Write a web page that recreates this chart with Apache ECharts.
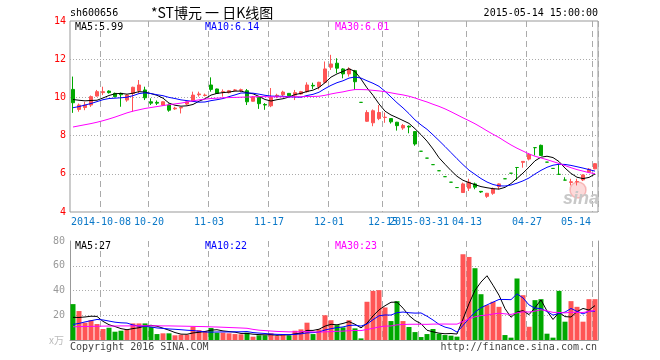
<!DOCTYPE html>
<html><head><meta charset="utf-8">
<script src="https://cdn.jsdelivr.net/npm/echarts@6/dist/echarts.min.js"></script>
<style>html,body{margin:0;padding:0;background:#fff}#c{width:660px;height:360px}</style>
</head><body><div id="c"></div>
<script>
const dates = [
'2014-09-24','2014-09-25','2014-09-26','2014-09-29','2014-09-30',
'2014-10-08','2014-10-09','2014-10-10','2014-10-13','2014-10-14','2014-10-15','2014-10-16','2014-10-17',
'2014-10-20','2014-10-21','2014-10-22','2014-10-23','2014-10-24','2014-10-27','2014-10-28','2014-10-29','2014-10-30','2014-10-31',
'2014-11-03','2014-11-04','2014-11-05','2014-11-06','2014-11-07','2014-11-10','2014-11-11','2014-11-12','2014-11-13','2014-11-14',
'2014-11-17','2014-11-18','2014-11-19','2014-11-20','2014-11-21','2014-11-24','2014-11-25','2014-11-26','2014-11-27','2014-11-28',
'2014-12-01','2014-12-02','2014-12-03','2014-12-04','2014-12-05','2014-12-08','2014-12-09','2014-12-10','2014-12-11',
'2014-12-15','2014-12-16','2014-12-17','2014-12-18','2014-12-19','2014-12-22',
'2015-03-31','2015-04-01','2015-04-02','2015-04-03','2015-04-07','2015-04-08','2015-04-09','2015-04-10',
'2015-04-13','2015-04-14','2015-04-15','2015-04-16','2015-04-17',
'2015-04-20','2015-04-21','2015-04-22','2015-04-23','2015-04-24',
'2015-04-27','2015-04-28','2015-04-29','2015-04-30',
'2015-05-04','2015-05-05','2015-05-06','2015-05-07','2015-05-08',
'2015-05-11','2015-05-12','2015-05-14'];

const tickDates = ['2014-10-08','2014-10-20','2014-11-03','2014-11-17','2014-12-01','2014-12-15','2015-03-31','2015-04-13','2015-04-27','2015-05-14'];
const tickLabels = ['2014-10-08','10-20','11-03','11-17','12-01','12-15','2015-03-31','04-13','04-27','05-14'];

const opens = [10.42,9.37,9.47,9.60,10.07,10.25,10.33,10.21,10.21,9.86,
10.21,10.35,10.39,9.77,9.74,9.60,9.60,9.40,9.45,9.65,
9.82,10.14,10.10,10.65,10.44,10.28,10.25,10.37,10.37,10.35,
9.80,10.00,9.63,9.56,10.08,10.14,10.21,10.12,10.18,10.30,
10.63,10.56,10.79,11.58,11.79,11.49,11.23,11.40,9.74,8.75,
8.67,8.89,8.95,8.89,8.70,8.40,8.49,8.21,7.18,6.82,
6.48,6.16,5.85,5.56,5.28,5.02,5.25,5.47,5.08,4.82,
4.98,5.33,5.74,6.03,6.33,6.60,6.77,7.37,7.49,6.61,
6.28,5.97,5.67,5.55,5.58,5.68,6.09,6.26];
const closes = [9.72,9.60,9.60,10.04,10.30,10.30,10.25,10.04,10.14,10.12,
10.53,10.65,9.98,9.70,9.70,9.77,9.33,9.44,9.47,9.77,
10.12,10.18,10.12,10.42,10.21,10.30,10.35,10.39,10.40,9.77,
10.02,9.67,9.60,10.00,10.11,10.28,10.09,10.25,10.30,10.65,
10.60,10.79,11.49,11.75,11.53,11.23,11.49,10.82,9.74,9.21,
9.30,9.21,8.96,8.72,8.52,8.53,8.45,7.56,7.18,6.82,
6.48,6.16,5.85,5.56,5.28,5.47,5.56,5.30,5.05,4.98,
5.21,5.47,5.74,6.03,6.33,6.65,7.02,7.37,6.96,6.61,
6.28,5.97,5.67,5.58,5.60,5.94,6.24,6.53];
const lows = [9.19,9.25,9.33,9.50,10.04,10.12,10.20,10.00,9.51,9.77,
9.25,10.21,9.86,9.60,9.60,9.55,9.25,9.35,9.16,9.60,
9.77,10.04,10.05,10.30,10.18,10.04,10.21,10.33,10.28,9.60,
9.78,9.40,9.35,9.49,9.96,10.05,10.05,9.86,10.14,10.25,
10.44,10.42,10.74,11.44,11.26,11.00,11.09,10.39,9.74,8.72,
8.49,8.81,8.67,8.63,8.26,8.30,8.12,7.47,7.18,6.82,
6.48,6.16,5.85,5.56,5.28,5.02,5.10,5.19,5.00,4.74,
4.90,5.18,5.74,6.03,5.68,6.32,6.70,6.96,6.96,6.61,
6.28,5.97,5.67,5.39,5.39,5.62,6.05,6.24];
const highs = [11.09,9.68,9.77,10.10,10.39,10.56,10.37,10.25,10.25,10.16,
10.56,10.91,10.56,9.95,9.84,9.80,9.68,9.51,9.50,9.80,
10.30,10.30,10.20,11.05,10.46,10.42,10.39,10.44,10.46,10.44,
10.07,10.05,9.70,10.49,10.19,10.35,10.23,10.39,10.34,10.79,
10.77,10.82,11.88,12.23,12.05,11.53,11.58,11.44,9.74,9.33,
9.37,9.60,9.21,8.90,8.72,8.61,8.53,8.22,7.18,6.82,
6.48,6.16,5.85,5.56,5.28,5.54,5.74,5.54,5.10,5.00,
5.28,5.50,5.74,6.03,6.33,6.65,7.09,7.37,7.53,6.61,
6.28,6.53,5.82,5.74,5.74,5.97,6.30,6.56];

const ma5 = [9.89,9.85,9.82,9.84,9.85,9.97,10.10,10.19,10.21,10.17,
10.22,10.30,10.28,10.20,10.11,9.96,9.70,9.59,9.54,9.56,
9.63,9.80,9.93,10.12,10.21,10.25,10.28,10.33,10.33,10.24,
10.19,10.05,9.89,9.81,9.88,9.93,10.02,10.15,10.21,10.31,
10.38,10.52,10.77,11.06,11.23,11.36,11.50,11.36,10.96,10.50,
10.11,9.66,9.28,9.08,8.94,8.79,8.64,8.36,8.05,7.71,
7.30,6.84,6.50,6.17,5.87,5.66,5.54,5.43,5.33,5.27,
5.22,5.20,5.29,5.49,5.76,6.04,6.35,6.68,6.87,6.92,
6.85,6.64,6.30,6.02,5.82,5.75,5.81,5.99];
const ma10 = [9.46,9.52,9.60,9.68,9.78,9.88,9.94,9.96,9.98,10.01,
10.09,10.20,10.24,10.20,10.14,10.09,10.00,9.94,9.87,9.83,
9.79,9.75,9.76,9.83,9.88,9.94,10.04,10.13,10.23,10.23,
10.22,10.17,10.11,10.07,10.06,10.06,10.03,10.02,10.01,10.10,
10.16,10.27,10.46,10.63,10.77,10.87,11.01,11.07,11.01,10.87,
10.74,10.58,10.32,10.02,9.72,9.45,9.15,8.82,8.56,8.33,
8.04,7.74,7.43,7.11,6.79,6.48,6.19,5.97,5.75,5.57,
5.44,5.37,5.36,5.41,5.51,5.63,5.78,5.99,6.18,6.34,
6.45,6.50,6.49,6.44,6.37,6.30,6.22,6.14];
const ma30 = [8.45,8.51,8.57,8.63,8.70,8.78,8.87,8.97,9.08,9.19,
9.28,9.35,9.42,9.47,9.52,9.57,9.62,9.66,9.70,9.76,
9.82,9.87,9.91,9.94,9.96,9.98,9.99,10.00,10.01,10.02,
10.03,10.04,10.04,10.03,10.03,10.03,10.02,10.03,10.03,10.05,
10.05,10.06,10.11,10.18,10.24,10.29,10.36,10.41,10.41,10.40,
10.37,10.34,10.30,10.24,10.18,10.13,10.06,9.97,9.86,9.76,
9.64,9.53,9.40,9.25,9.09,8.93,8.78,8.62,8.44,8.25,
8.07,7.90,7.70,7.51,7.34,7.19,7.04,6.92,6.83,6.74,
6.64,6.54,6.43,6.32,6.22,6.14,6.06,6.01];

const volumes = [29,23.4,14,16,12.9,8.9,9.9,6.7,7.5,8.6,
13.4,13.4,13.4,10.7,4.8,5.4,5.4,3.8,4.3,4.3,
10.7,8,7.2,9.7,5.9,5.9,5.4,4.8,4.6,5.9,
2.7,3.8,3.8,5.4,3.2,4.8,3.8,7.5,8.6,14,
4.8,8.6,20,16,12,10.2,16,9.4,1.3,30.9,
39.7,40.3,26.3,15.3,31.4,15.3,10.5,6.4,2.4,4.8,
8.9,5.1,4,3.5,2.7,69.3,67.1,58,37,28.2,
30.9,26.8,4,1.9,49.7,36.2,10.7,32.2,33,5.1,
1.9,39.7,14.8,31.4,26.8,14.8,33,33];
const vma5 = [18.3,18.2,18.6,19.2,19.06,15.04,12.34,10.88,9.18,8.32,
9.22,9.92,11.26,11.9,11.14,9.54,7.94,6.02,4.74,4.64,
5.7,6.22,6.9,7.98,8.3,7.34,6.82,6.34,5.32,5.32,
4.68,4.36,4.16,4.32,3.78,4.2,4.2,4.94,5.58,7.74,
7.74,8.7,11.2,12.68,12.28,13.36,14.84,12.72,9.78,13.56,
19.46,24.32,27.7,30.5,30.6,25.72,19.76,15.78,13.2,7.88,
6.6,5.52,5.04,5.26,4.84,16.92,29.32,40.12,46.82,51.92,
44.24,36.18,25.38,18.36,22.66,23.72,20.5,26.14,32.36,23.44,
16.58,22.38,18.9,18.58,22.92,25.5,24.16,27.8];
const vma10 = [12.6,13.4,14.6,15.6,16.6,16.2,15.3,14.4,13.9,13.69,
12.13,11.13,11.07,10.54,9.73,9.38,8.93,8.64,8.32,7.89,
7.62,7.08,6.46,6.36,6.47,6.52,6.52,6.62,6.65,6.81,
6.01,5.59,5.25,4.82,4.55,4.44,4.28,4.55,4.95,5.76,
5.97,6.45,8.07,9.13,10.01,10.55,11.77,11.96,11.23,12.92,
16.41,19.58,20.21,20.14,22.08,22.59,22.04,21.74,21.85,19.24,
16.16,12.64,10.41,9.23,6.36,11.76,17.42,22.58,26.04,28.38,
30.58,32.75,32.75,32.59,37.29,33.98,28.34,25.76,25.36,23.05,
20.15,21.44,22.52,25.47,23.18,21.04,23.27,23.35];
const vma30 = [10.7,10.8,10.9,11.0,11.1,11.2,11.3,11.3,11.4,11.4,
11.4,11.5,11.5,11.5,11.5,11.4,11.4,11.3,11.2,11.1,
11.0,10.9,10.8,10.6,10.5,10.3,10.1,9.9,9.7,9.46,
8.59,7.93,7.59,7.24,6.92,6.78,6.58,6.60,6.64,6.82,
6.53,6.37,6.59,6.77,7.01,7.17,7.52,7.71,7.61,8.50,
9.46,10.54,11.18,11.36,12.21,12.53,12.70,12.75,12.68,12.64,
12.85,12.89,12.90,12.83,12.82,14.97,17.08,18.76,19.71,20.18,
21.05,21.66,21.12,20.65,21.91,22.78,22.60,23.36,24.42,23.56,
22.30,22.28,21.89,22.43,22.28,22.26,23.01,23.90];

const priceLegend = ['MA5:5.99','MA10:6.14','MA30:6.01'];
const volLegend = ['MA5:27','MA10:22','MA30:23'];

const RED = '#ff5555', GREEN = '#00a800';
const MONO = '"DejaVu Sans Mono", "Liberation Mono", monospace';
const CJK = '"Noto Sans CJK SC", sans-serif';
const lineColors = ['#000000', '#0000ff', '#ff00ff'];

const candleData = opens.map((o, i) => {
  const item = { value: [o, closes[i], lows[i], highs[i]] };
  if (o === closes[i]) item.itemStyle = { color: GREEN, color0: GREEN, borderColor: GREEN, borderColor0: GREEN };
  return item;
});
const volData = volumes.map((v, i) => ({ value: v, itemStyle: { color: closes[i] > opens[i] ? RED : GREEN } }));

const isTick = (idx, val) => tickDates.indexOf(val) >= 0;
const dashLine = { show: true, interval: isTick, lineStyle: { color: '#aaa', type: [6, 4], width: 1 } };
const dotLine = { show: true, showMinLine: false, showMaxLine: false, lineStyle: { color: '#aaa', type: [1, 2], width: 1 } };

function lineSeries(name, data, color, xi, yi) {
  return { name, type: 'line', data, xAxisIndex: xi, yAxisIndex: yi, symbol: 'none', showSymbol: false,
    lineStyle: { color, width: 1 }, itemStyle: { color }, z: 3, silent: true };
}

const texts = [];
function txt(text, x, y, color, font, align) {
  texts.push({ type: 'text', x, y, z: 10, silent: true,
    style: { text, fill: color, font, textAlign: align || 'left', textVerticalAlign: 'middle' } });
}
txt('sh600656', 70, 13, '#000', '10px ' + MONO);
txt('*ST博元 一 日K线图', 151, 13, '#000', '14px ' + CJK);
txt('2015-05-14 15:00:00', 598, 13, '#000', '10px ' + MONO, 'right');
[75, 205, 335].forEach((x, k) => txt(priceLegend[k], x, 27, lineColors[k], '10px ' + MONO));
[75, 205, 335].forEach((x, k) => txt(volLegend[k], x, 246, lineColors[k], '10px ' + MONO));
txt('x万', 64, 340, '#bbb', '10px ' + CJK, 'right');
txt('Copyright 2016 SINA.COM', 70, 347, '#444', '10px ' + MONO);
txt('http://finance.sina.com.cn', 597, 347, '#444', '10px ' + MONO, 'right');

const watermark = [
  { type: 'circle', shape: { cx: 578, cy: 190, r: 8 }, z: 1, silent: true,
    style: { fill: 'rgba(245,150,150,0.35)', stroke: 'rgba(240,120,120,0.45)', lineWidth: 1.5 } },
  { type: 'text', x: 581, y: 199, z: 1, silent: true,
    style: { text: 'sina', fill: '#c8c8c8', font: 'italic bold 18px "Liberation Sans", Arial, sans-serif', textAlign: 'center', textVerticalAlign: 'middle' } }
];

const chart = echarts.init(document.getElementById('c'), null, { renderer: 'canvas' });
chart.setOption({
  animation: false,
  backgroundColor: '#ffffff',
  grid: [
    { left: 70, top: 21, width: 528, height: 191, show: true, borderColor: '#999', borderWidth: 1, backgroundColor: 'transparent' },
    { left: 70, top: 241, width: 528, height: 99 }
  ],
  xAxis: [
    { type: 'category', gridIndex: 0, data: dates, boundaryGap: true,
      axisLine: { show: false }, axisTick: { show: false },
      axisLabel: { interval: isTick, formatter: v => tickLabels[tickDates.indexOf(v)] || '',
        color: '#0a78c8', fontFamily: MONO, fontSize: 10, margin: 5, padding: [0, 4, 0, 0], alignMaxLabel: 'right', hideOverlap: false },
      splitLine: dashLine },
    { type: 'category', gridIndex: 1, data: dates, boundaryGap: true, position: 'top',
      axisLine: { show: true, lineStyle: { color: '#999', width: 1 } }, axisTick: { show: false },
      axisLabel: { show: false }, splitLine: dashLine }
  ],
  yAxis: [
    { type: 'value', gridIndex: 0, min: 4, max: 14, interval: 2, scale: false,
      axisLine: { show: false }, axisTick: { show: false },
      axisLabel: { color: '#ff0000', fontFamily: MONO, fontSize: 10, margin: 4 },
      splitLine: dotLine },
    { type: 'value', gridIndex: 1, min: 0, max: 80, interval: 20,
      axisLine: { show: true, lineStyle: { color: '#999', width: 1 } }, axisTick: { show: false },
      axisLabel: { color: '#999', fontFamily: MONO, fontSize: 10, margin: 5, formatter: v => v === 0 ? '' : String(v) },
      splitLine: dotLine },
    { type: 'value', gridIndex: 1, min: 0, max: 80, interval: 20, position: 'right',
      axisLine: { show: true, lineStyle: { color: '#999', width: 1 } }, axisTick: { show: false },
      axisLabel: { show: false }, splitLine: { show: false } }
  ],
  series: [
    { name: 'K', type: 'candlestick', xAxisIndex: 0, yAxisIndex: 0, data: candleData, barWidth: 4,
      itemStyle: { color: RED, color0: GREEN, borderColor: RED, borderColor0: GREEN, borderWidth: 1 }, z: 2, silent: true },
    lineSeries('MA5', ma5, lineColors[0], 0, 0),
    lineSeries('MA10', ma10, lineColors[1], 0, 0),
    lineSeries('MA30', ma30, lineColors[2], 0, 0),
    { name: 'VOL', type: 'bar', xAxisIndex: 1, yAxisIndex: 1, data: volData, barWidth: 5, z: 2, silent: true },
    lineSeries('VMA5', vma5, lineColors[0], 1, 1),
    lineSeries('VMA10', vma10, lineColors[1], 1, 1),
    lineSeries('VMA30', vma30, lineColors[2], 1, 1)
  ],
  graphic: { elements: watermark.concat(texts) }
});
</script></body></html>
